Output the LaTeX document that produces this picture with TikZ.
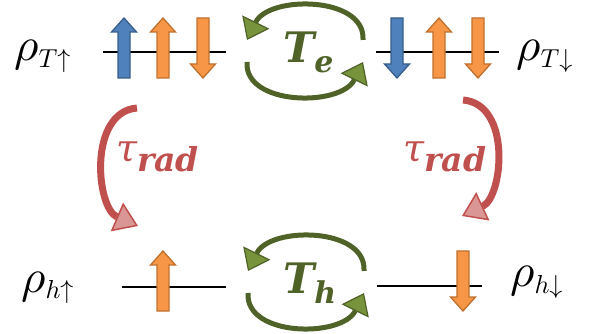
\documentclass[tikz,border=0pt]{standalone}
\usepackage{graphicx}
\usepackage{fontspec}
\newfontfamily\djs{DejaVu Serif}
\usetikzlibrary{arrows.meta}
\definecolor{gD}{HTML}{4F6228}
\definecolor{gF}{HTML}{77933C}
\definecolor{rD}{HTML}{C0504D}
\definecolor{rF}{HTML}{DA9694}
\definecolor{bD}{HTML}{385D8A}
\definecolor{bF}{HTML}{4F81BD}
\definecolor{oD}{HTML}{C0702E}
\definecolor{oF}{HTML}{F79646}
\newcommand\rhotxt[1]{\scalebox{4.7}{$\rho$}\raisebox{-6.5pt}{\scalebox{2.6}{$#1$}}}
\newcommand\tsubsz{\fontsize{30}{30}\selectfont}
\newcommand\radsz{\bfseries\itshape\fontsize{33}{33}\selectfont}
\begin{document}
\begin{tikzpicture}[x=1pt,y=-1pt,
  level/.style={draw=black,line width=1.6pt},
  pics/spin/.style={code={\path[#1] (-6,30) -- (-6,-16) -- (-12.5,-16) -- (0,-30) -- (12.5,-16) -- (6,-16) -- (6,30) -- cycle;}},
  bluespin/.style={draw=bD,fill=bF,line width=1.3pt,line join=miter},
  orangespin/.style={draw=oD,fill=oF,line width=1.3pt,line join=miter},
  garc/.style={draw=gD,line width=5pt,-{Triangle[length=20pt,width=30pt,fill=gF,line width=1.2pt]}},
  rarc/.style={draw=rD,line width=7pt,-{Triangle[length=23pt,width=31pt,fill=rF,line width=1.5pt]}},
  rho/.style={inner sep=0,anchor=base west},
  tlab/.style={inner sep=0,anchor=base west,text=gD,font=\djs\bfseries\itshape\fontsize{42}{42}\selectfont},
  tau/.style={inner sep=0,anchor=base west,text=rD,font=\djs\itshape\fontsize{38}{38}\selectfont}
]
\useasboundingbox (0,0) rectangle (595,334);

% level lines
\coordinate (tl1) at (103,52); \coordinate (tl2) at (226,52);
\coordinate (tr1) at (376,52); \coordinate (tr2) at (499,52);
\coordinate (bl1) at (122,287); \coordinate (bl2) at (226,287);
\coordinate (br1) at (377,286); \coordinate (br2) at (482,286);
\draw[level] (tl1) -- (tl2);
\draw[level] (tr1) -- (tr2);
\draw[level] (bl1) -- (bl2);
\draw[level] (br1) -- (br2);

% spins
\pic at (124,48) {spin=bluespin};
\pic at (163,48) {spin=orangespin};
\pic[rotate=180] at (203,48) {spin=orangespin};
\pic[rotate=180] at (397,48) {spin=bluespin};
\pic at (439,48) {spin=orangespin};
\pic[rotate=180] at (478,48) {spin=orangespin};
\pic at (163,281) {spin=orangespin};
\pic[rotate=180] at (463,281) {spin=orangespin};

% labels
\node[rho] (rTu) at (14,61) {\rhotxt{T{\uparrow}}};
\node[rho] (rTd) at (516,61) {\rhotxt{T{\downarrow}}};
\node[rho] (rhu) at (21,292) {\rhotxt{h{\uparrow}}};
\node[rho] (rhd) at (510,287) {\rhotxt{h{\downarrow}}};

\node[tlab] (Te) at (283,63) {T\raisebox{-10pt}{\tsubsz e}};
\node[tlab] (Th) at (283,293) {T\raisebox{-10pt}{\tsubsz h}};

\node[tau] (taul) at (116,162) {τ\raisebox{-10pt}{\radsz rad}};
\node[tau] (taur) at (403,162) {τ\raisebox{-10pt}{\radsz rad}};

% green cycles
\coordinate (Tea) at (363,40); \coordinate (Teb) at (247,40);
\coordinate (Tec) at (247,62); \coordinate (Ted) at (363,62);
\draw[garc] (Tea) .. controls (366,-4) and (269,-5) .. (Teb);
\draw[garc] (Tec) .. controls (244,106) and (341,107) .. (Ted);
\coordinate (Tha) at (364,271); \coordinate (Thb) at (248,271);
\coordinate (Thc) at (248,293); \coordinate (Thd) at (364,293);
\draw[garc] (Tha) .. controls (367,227) and (270,226) .. (Thb);
\draw[garc] (Thc) .. controls (245,337) and (342,338) .. (Thd);

% red radiative arrows
\coordinate (rla) at (137,108); \coordinate (rlb) at (138,226);
\coordinate (rra) at (463,100); \coordinate (rrb) at (462,216);
\draw[rarc] (rla) .. controls (88,112) and (96,208) .. (rlb);
\draw[rarc] (rra) .. controls (512,104) and (503,197) .. (rrb);
\end{tikzpicture}
\end{document}
